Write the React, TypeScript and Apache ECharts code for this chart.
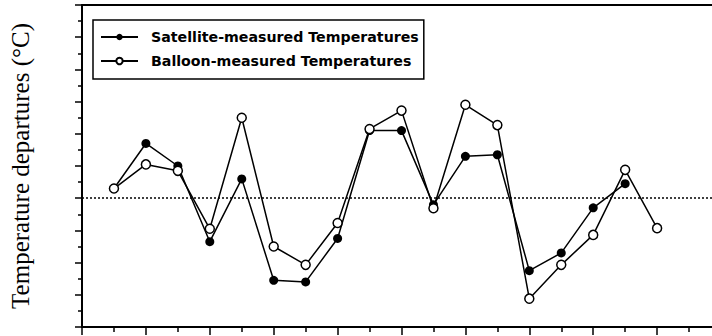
import React, { useEffect, useRef } from "react";
import * as echarts from "echarts";

// x positions (index along the time axis; axis starts at 0)
const satelliteX = [1, 2, 3, 4, 5, 6, 7, 8, 9, 10, 11, 12, 13, 14, 15, 16, 17];
const satelliteY = [0.03, 0.17, 0.1, -0.135, 0.06, -0.255, -0.26, -0.125, 0.21, 0.21, -0.02, 0.13, 0.135, -0.225, -0.17, -0.03, 0.045];
const balloonX = [1, 2, 3, 4, 5, 6, 7, 8, 9, 10, 11, 12, 13, 14, 15, 16, 17, 18];
const balloonY = [0.03, 0.105, 0.085, -0.095, 0.25, -0.15, -0.207, -0.077, 0.215, 0.272, -0.031, 0.29, 0.227, -0.312, -0.207, -0.114, 0.088, -0.093];

const seriesNames = ["Satellite-measured Temperatures", "Balloon-measured Temperatures"];
const yTitle = "Temperature departures (°C)";

export default function App() {
  const ref = useRef<HTMLDivElement>(null);
  useEffect(() => {
    if (!ref.current) return;
    const chart = echarts.init(ref.current, undefined, { renderer: "svg" });
    const axisLine = { show: true, onZero: false, lineStyle: { color: "#000", width: 2 } };
    chart.setOption({
      animation: false,
      backgroundColor: "#fff",
      grid: { left: 75, top: 5, width: 646, height: 322 },
      legend: {
        orient: "vertical",
        left: 93,
        top: 20,
        padding: [10, 5, 11, 7],
        borderColor: "#000",
        borderWidth: 1.5,
        itemWidth: 37,
        itemHeight: 8,
        itemGap: 10,
        data: seriesNames,
        textStyle: {
          fontFamily: "DejaVu Sans",
          fontWeight: "bold",
          fontSize: 14.2,
          color: "#000",
          padding: [0, 0, 0, 8],
        },
      },
      xAxis: [
        {
          type: "value",
          min: 0,
          max: 20,
          interval: 2,
          axisLine,
          axisTick: { show: true, inside: false, length: 8, lineStyle: { color: "#000", width: 1.5 } },
          minorTick: { show: true, splitNumber: 2, length: 5, lineStyle: { color: "#000", width: 1.5 } },
          axisLabel: { show: false },
          splitLine: { show: false },
          minorSplitLine: { show: false },
        },
        {
          type: "value",
          position: "top",
          min: 0,
          max: 20,
          axisLine,
          axisTick: { show: false },
          axisLabel: { show: false },
          splitLine: { show: false },
        },
      ],
      yAxis: {
        type: "value",
        min: -0.4,
        max: 0.6,
        interval: 0.1,
        axisLine,
        axisTick: { show: true, inside: false, length: 7, lineStyle: { color: "#000", width: 1.5 } },
        minorTick: { show: true, splitNumber: 2, length: 4, lineStyle: { color: "#000", width: 1.5 } },
        axisLabel: { show: false },
        splitLine: { show: false },
        minorSplitLine: { show: false },
        name: yTitle,
        nameLocation: "middle",
        nameRotate: 90,
        nameGap: 49,
        nameTextStyle: { fontFamily: "Liberation Serif", fontSize: 25, color: "#000" },
      },
      series: [
        {
          name: seriesNames[0],
          type: "line",
          data: satelliteX.map((x, i) => [x, satelliteY[i]]),
          symbol: "circle",
          symbolSize: 9,
          itemStyle: { color: "#000" },
          lineStyle: { color: "#000", width: 1.5 },
          markLine: {
            silent: true,
            symbol: "none",
            label: { show: false },
            lineStyle: { color: "#000", width: 1.5, type: [2, 2] },
            data: [{ yAxis: 0 }],
          },
        },
        {
          name: seriesNames[1],
          type: "line",
          data: balloonX.map((x, i) => [x, balloonY[i]]),
          symbol: "circle",
          symbolSize: 9,
          itemStyle: { color: "#fff", borderColor: "#000", borderWidth: 1.5 },
          lineStyle: { color: "#000", width: 1.5 },
        },
      ],
    });
    return () => chart.dispose();
  }, []);
  return (
    <div style={{ position: "fixed", left: 0, top: 0, width: 712, height: 336, overflow: "hidden", background: "#fff" }}>
      <div ref={ref} style={{ width: 740, height: 336 }} />
    </div>
  );
}
